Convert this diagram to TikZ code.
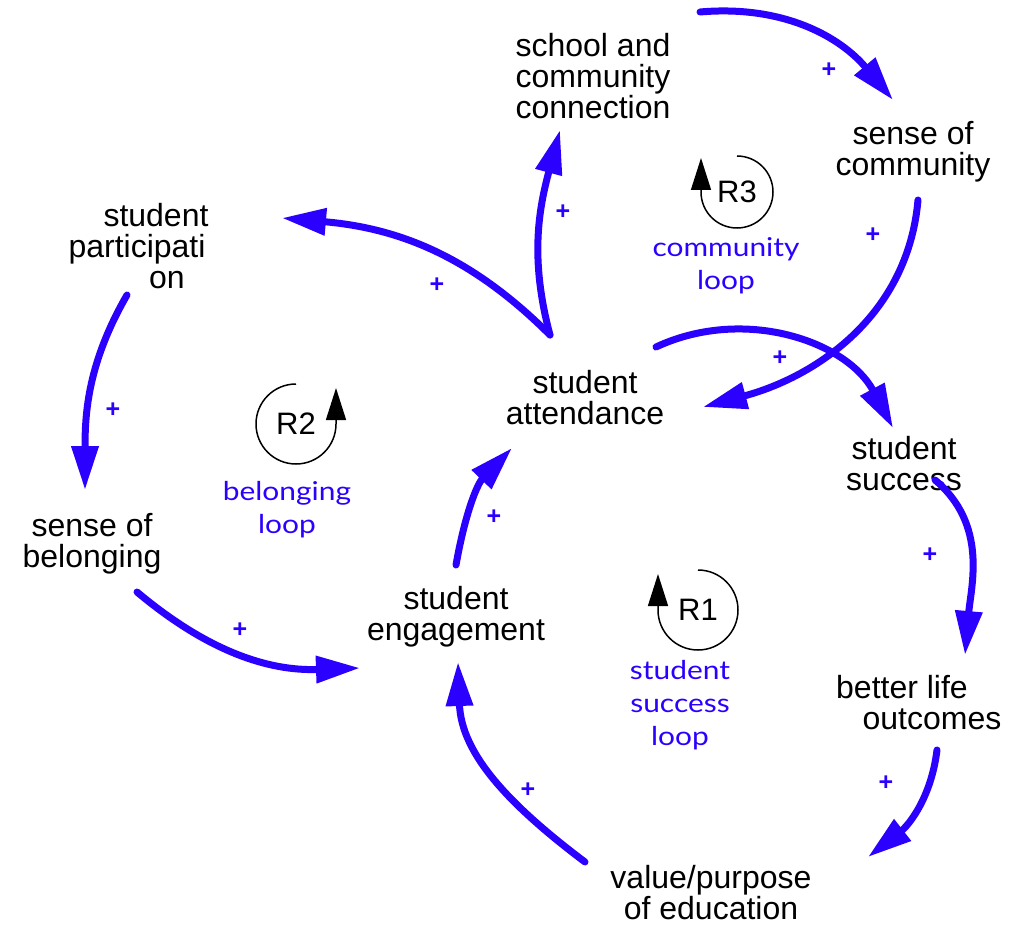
\documentclass[tikz,border=0pt]{standalone}
\usepackage{fontspec}
\setmainfont{Liberation Sans}
\newfontfamily\loopfont[FakeStretch=1.15]{Lato}
\usetikzlibrary{arrows.meta}
\definecolor{linkblue}{RGB}{44,0,255}

\begin{document}
\begin{tikzpicture}[x=1pt,y=1pt,
    var/.style={align=center, inner sep=0pt, font=\fontsize{32}{31}\selectfont},
    link/.style={linkblue, line width=7pt, line cap=round, -{Triangle[length=44pt,width=26pt]}},
    pol/.style={text=linkblue, inner sep=0pt, font=\bfseries\fontsize{25}{25}\selectfont},
    rtag/.style={inner sep=0pt, font=\fontsize{31}{31}\selectfont},
    looptag/.style={align=center, inner sep=0pt, text=linkblue, font=\loopfont\fontsize{26}{33}\selectfont},
    loopmark/.style={black, line width=1.5pt, -{Triangle[length=32pt,width=20pt]}}]
\useasboundingbox (0,0) rectangle (1025,-933);

% variables
\node[var] (scc) at (593,-76) {school and\\community\\connection};
\node[var] (soc) at (913,-152) {sense of\\community};
\node[var] (part) at (137,-246) {\hspace*{38pt}student\\participati\\\hspace*{60pt}on};
\node[var] (att) at (585,-398) {student\\attendance};
\node[var] (succ) at (904,-464) {student\\success};
\node[var] (bel) at (92,-544) {sense of\\belonging};
\node[var] (eng) at (456,-617) {student\\engagement};
\node[var] (blo) at (917,-703) {better life\hspace*{30pt}\\\hspace*{30pt}outcomes};
\node[var] (val) at (711,-893) {value/purpose\\of education};

% causal links
\draw[link] ([shift={(107,64)}]scc.center) to[out=5,in=130] ([shift={(-20,52)}]soc.center);
\draw[link] ([shift={(5,-48)}]soc.center) to[out=265,in=15] ([shift={(118,-9)}]att.center);
\draw[link] ([shift={(-35,63)}]att.center) to[out=105,in=255] ([shift={(-33,-54)}]scc.center);
\draw[link] ([shift={(-35,63)}]att.center) to[out=135,in=-5] ([shift={(145,28)}]part.center);
\draw[link] ([shift={(71,51)}]att.center) to[out=25,in=118] ([shift={(-11,36)}]succ.center);
\draw[link] ([shift={(-10,-49)}]part.center) to[out=240,in=90] ([shift={(-7,54)}]bel.center);
\draw[link] ([shift={(45,-48)}]bel.center) to[out=-40,in=182] ([shift={(-96,-51)}]eng.center);
\draw[link] ([shift={(0,52)}]eng.center) to[out=80,in=226] ([shift={(-73,-50)}]att.center);
\draw[link] ([shift={(31,-16)}]succ.center) to[out=-40,in=85] ([shift={(48,48)}]blo.center);
\draw[link] ([shift={(20,-47)}]blo.center) to[out=-97,in=38] ([shift={(157,36)}]val.center);
\draw[link] ([shift={(-126,31)}]val.center) to[out=143,in=-88] ([shift={(2,-45)}]eng.center);

% polarities
\node[pol] (p1) at (829,-70) {+};
\node[pol] (p2) at (873,-235) {+};
\node[pol] (p3) at (563,-212) {+};
\node[pol] (p4) at (437,-285) {+};
\node[pol] (p5) at (780,-358) {+};
\node[pol] (p6) at (113,-410) {+};
\node[pol] (p7) at (240,-630) {+};
\node[pol] (p8) at (494,-517) {+};
\node[pol] (p9) at (930,-555) {+};
\node[pol] (p10) at (886,-783) {+};
\node[pol] (p11) at (528,-790) {+};

% loops
\node[rtag] (r3) at (737,-192) {R3};
\draw[loopmark] ([yshift=36]r3.center) arc[start angle=90,end angle=-180,radius=36] -- ++(0,34);
\node[looptag] (l3) at (726,-266) {community\\loop};

\node[rtag] (r2) at (296,-424) {R2};
\draw[loopmark] ([yshift=40]r2.center) arc[start angle=90,end angle=360,radius=40] -- ++(0,36);
\node[looptag] (l2) at (287,-510) {belonging\\loop};

\node[rtag] (r1) at (698,-610) {R1};
\draw[loopmark] ([yshift=40]r1.center) arc[start angle=90,end angle=-180,radius=40] -- ++(0,36);
\node[looptag] (l1) at (680,-705) {student\\success\\loop};
\end{tikzpicture}
\end{document}
